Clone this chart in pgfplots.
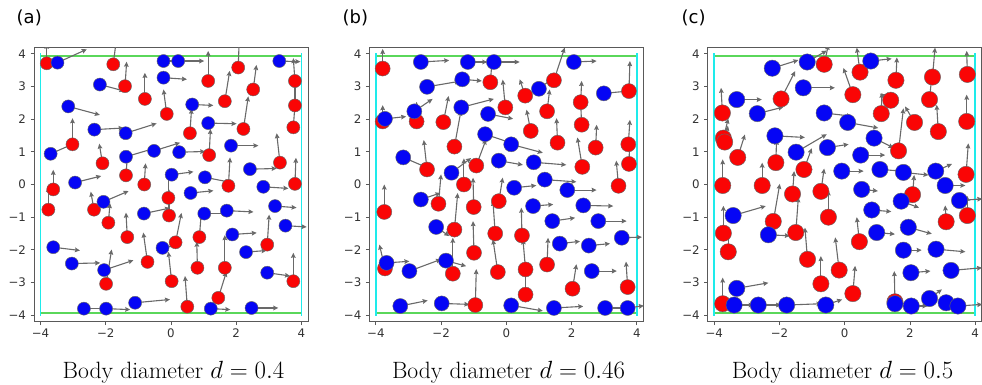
\documentclass[border=0pt]{standalone}
\usepackage{fontspec}
\usepackage{pgfplots}
\usepackage{pgfplotstable}
\pgfplotsset{compat=1.18}
\usetikzlibrary{arrows.meta}
\newfontfamily\tickfont{DejaVu Sans}
\newfontfamily\panelfont{DejaVu Sans}

\definecolor{wallgreen}{RGB}{90,215,90}
\definecolor{wallcyan}{RGB}{30,235,235}
\definecolor{arrowgray}{RGB}{105,105,105}
\definecolor{bodyred}{RGB}{250,5,5}
\definecolor{bodyblue}{RGB}{5,5,245}

% ---------- d = 0.4 ----------
\pgfplotstableread{
x y u v
-3.81 3.71 0 0.6
-1.77 3.68 0.1 0.8
1.14 3.17 0 0.92
2.06 3.58 0.03 0.8
3.80 3.17 -0.05 0.7
-1.41 3.01 0.05 0.75
-0.80 2.62 0 0.8
2.52 2.91 0.1 0.75
-0.13 2.16 -0.1 0.75
1.65 2.55 0.15 0.93
3.80 2.42 0 0.7
0.58 1.57 0.05 0.75
2.22 1.70 0.15 1.0
3.75 1.75 0.05 0.7
-3.02 1.23 0 0.8
1.17 0.90 0.04 0.8
-2.10 0.65 -0.1 0.6
3.34 0.67 -0.1 0.9
-1.38 0.28 0.05 0.7
-0.82 0.0 0.04 0.65
1.76 -0.04 0.05 0.87
3.80 0.02 0.03 0.8
-3.61 -0.15 0 0.6
-3.76 -0.77 0 0.7
-2.36 -0.77 -0.1 0.55
-0.08 -0.41 0 0.8
-0.06 -0.95 0 0.8
-1.92 -1.17 0.05 0.6
-1.34 -1.61 -0.04 0.75
0.87 -1.61 0.07 0.9
0.14 -1.77 0.18 0.9
2.95 -1.84 0.06 0.92
-0.72 -2.37 -0.13 0.9
0.81 -2.55 -0.02 0.8
1.65 -2.55 0 1.0
3.75 -2.96 0 0.87
-1.99 -3.04 0.17 1.05
0.02 -2.96 -0.1 0.9
1.45 -3.47 0.25 0.8
0.50 -3.74 -0.07 0.94
}\redA
\pgfplotstableread{
x y u v
-3.48 3.73 0.9 0.41
-0.23 3.78 0.5 0.0
0.22 3.78 0.8 0
3.32 3.78 0.65 -0.02
-2.18 3.06 0.75 -0.2
-0.23 3.27 0.72 -0.05
-3.15 2.39 0.97 -0.26
0.65 2.45 0.65 -0.03
1.14 1.88 0.87 -0.02
-2.35 1.68 0.9 0.05
-1.39 1.57 0.95 0.3
-3.69 0.94 0.64 0.28
-0.52 1.03 0.8 0.25
0.25 0.99 0.8 0.02
1.84 1.19 0.84 0
-1.38 0.85 0.85 0.25
2.42 0.47 0.82 0.02
-2.94 0.06 0.8 0.2
0.02 0.30 0.67 0.09
1.04 0.22 0.77 -0.15
2.83 -0.07 0.77 -0.05
-2.07 -0.53 0.77 0.33
0.60 -0.26 0.7 0.07
3.19 -0.66 0.66 -0.05
-0.83 -0.89 0.8 0.17
1.02 -0.89 0.7 0.0
1.71 -0.80 0.82 -0.04
3.51 -1.26 0.65 -0.04
1.88 -1.53 0.75 0.05
-3.61 -1.92 0.82 -0.1
-0.26 -1.94 0.6 0.1
2.30 -2.07 0.63 0.05
-3.04 -2.42 0.87 0.02
-2.05 -2.62 0.9 0.3
2.95 -2.70 0.7 -0.1
-1.10 -3.62 1.07 0.1
-2.67 -3.80 0.7 0
-1.99 -3.80 0.74 -0.03
1.22 -3.80 0.6 -0.03
2.47 -3.78 0.82 0
}\blueA

% ---------- d = 0.46 ----------
\pgfplotstableread{
x y u v
-3.79 3.55 0 0.6
1.46 3.19 0.33 1.0
0.58 2.72 -0.17 0.5
-0.49 3.13 0.05 0.6
3.76 2.86 0.03 0.92
2.28 2.52 0.03 0.65
1.25 2.24 0.08 0.67
-0.03 2.36 -0.08 0.85
-3.79 1.93 0 0.5
-2.75 1.93 0.0 0.6
-1.93 1.91 0.16 0.8
2.31 1.83 -0.03 0.67
0.75 1.64 -0.13 0.65
-1.59 1.16 0.2 1.1
1.57 1.28 -0.03 0.75
2.74 1.13 0.03 0.7
3.74 1.23 0.05 0.75
-2.43 0.46 -0.1 0.9
-0.92 0.58 0.3 0.8
2.33 0.54 -0.15 0.9
3.76 0.63 0.03 0.84
-1.30 0.0 0.0 0.8
3.44 -0.04 -0.07 0.77
-3.74 -0.84 0 0.84
-2.08 -0.59 0.08 0.9
-1.0 -0.69 -0.02 0.9
-0.23 -0.51 0.12 0.72
-1.59 -1.38 0.1 1.12
-0.34 -1.50 -0.07 1.0
0.48 -1.56 -0.02 0.85
-0.99 -2.09 -0.03 0.97
1.25 -2.45 0.03 0.82
-3.72 -2.57 -0.17 0.73
-1.64 -2.73 0 1.1
-0.26 -2.68 -0.15 1.0
0.59 -2.60 -0.08 0.92
2.03 -3.19 0.12 0.75
3.72 -3.14 -0.05 0.78
0.59 -3.37 0 0.8
-0.95 -3.69 0.03 1.1
}\redB
\pgfplotstableread{
x y u v
-2.62 3.75 0.87 0.05
-1.18 3.75 0.6 0.0
-0.38 3.75 0.79 0
2.07 3.75 0.7 0.03
1.00 2.93 0.4 0.3
-1.35 3.22 0.6 -0.05
-2.43 2.99 1.0 0.17
2.99 2.79 0.75 0.07
-1.38 2.36 1.0 0.26
-2.82 2.24 0.56 0.38
-3.72 2.01 0.65 0.07
-0.56 2.16 0.77 -0.15
-0.65 1.54 0.8 -0.27
0.15 1.23 0.97 -0.26
-3.16 0.83 0.7 -0.3
-0.23 0.73 0.74 -0.13
0.84 0.68 1.0 -0.08
-1.68 0.36 0.6 0.45
1.18 0.15 0.97 -0.07
0.24 -0.10 0.68 0.07
1.87 -0.17 0.9 0
-2.62 -0.46 0.6 0.2
0.82 -0.66 0.62 0.05
2.36 -0.64 0.92 -0.02
1.41 -1.12 0.7 0.1
2.82 -1.12 0.87 0
-2.15 -1.30 0.4 -0.28
3.54 -1.63 0.62 0.02
1.64 -1.81 0.62 0.07
2.53 -1.87 0.65 0.06
-3.67 -2.40 0.7 0.05
-2.97 -2.65 0.97 0.36
-1.85 -2.33 0.62 -0.17
2.62 -2.65 0.77 0
-3.25 -3.72 0.84 0.17
-1.98 -3.64 0.85 -0.03
0.15 -3.70 0.97 -0.17
1.46 -3.78 0.9 0.05
3.03 -3.78 0.7 0
3.72 -3.78 0.5 0.07
}\blueB

% ---------- d = 0.5 ----------
\pgfplotstableread{
x y u v
-0.63 3.68 0.13 0.6
0.47 3.44 -0.1 0.75
1.57 3.19 0.03 0.7
2.69 3.29 0.08 0.9
3.76 3.37 -0.02 0.72
0.25 2.75 -0.29 0.82
1.41 2.58 -0.33 0.2
2.60 2.60 0.07 0.72
-1.95 2.62 0.43 0.85
-3.75 2.19 -0.04 0.77
1.12 2.17 0.02 0.64
2.14 1.90 -0.29 0.49
3.74 1.93 0 0.82
2.87 1.62 -0.05 0.82
-3.72 1.42 0.15 0.6
-3.68 1.30 0.1 0.5
1.65 1.03 0.15 1.3
-3.28 0.83 0.22 0.7
-2.11 0.67 0.02 0.7
-1.25 0.46 0.24 0.65
3.72 0.31 0.07 0.95
-3.74 -0.03 0 0.8
-2.53 -0.03 0 0.7
-1.60 -0.29 0.05 0.7
-0.73 -0.21 0.1 0.7
2.08 -0.31 0.05 0.6
-0.50 -1.00 0 0.82
-2.19 -1.13 0.2 1.15
3.11 -1.14 -0.03 0.5
3.76 -0.95 0 0.6
-3.72 -1.49 0 0.84
-1.50 -1.47 0.08 1.08
0.45 -1.75 -0.08 0.75
-3.57 -2.06 0 0.6
-1.14 -2.29 -0.08 0.97
-0.17 -2.62 -0.12 1.0
-0.73 -3.04 0 0.85
0.25 -3.34 0.07 0.85
-3.74 -3.65 0 0.8
1.54 -3.59 -0.02 0.94
}\redC
\pgfplotstableread{
x y u v
-2.22 3.56 0.8 0.25
-1.15 3.75 0.6 0.35
0.80 3.78 0.64 0.07
-1.27 2.96 0.97 0
-3.31 2.60 0.77 0
-2.68 2.17 0.8 0.2
-0.63 2.19 0.85 -0.1
0.09 1.90 0.94 -0.17
-2.14 1.49 0.92 -0.05
0.90 1.42 0.6 -0.3
-0.53 1.13 0.65 0.1
-1.49 0.99 0.94 0.55
0.49 0.90 0.75 0
-0.09 0.41 0.67 0
1.08 0.46 0.7 -0.05
1.80 0.37 0.77 -0.08
2.79 0.41 0.5 0.22
3.08 -0.03 0.62 0
0.52 -0.15 0.5 -0.05
1.73 -0.51 0.55 -0.2
3.52 -0.49 0.7 0.05
-3.42 -0.95 1.0 0.29
0.83 -0.78 0.6 -0.05
-2.34 -1.54 0.66 -0.03
0.98 -1.47 0.56 -0.05
1.95 -1.31 0.72 -0.2
1.80 -2.01 0.56 0
2.80 -1.98 0.9 -0.08
2.03 -2.70 0.6 0.05
3.26 -2.63 0.95 0.08
-3.31 -3.18 0.97 0.17
-3.39 -3.69 0.6 0
-2.65 -3.69 0.7 0
-1.78 -3.69 1.07 0.04
-0.58 -3.69 0.5 0.17
1.54 -3.65 0.5 0
2.04 -3.72 0.5 0
2.60 -3.49 0.38 0.28
3.11 -3.62 0.5 0
3.47 -3.72 0.75 0.05
}\blueC

\pgfplotsset{
  box/.style={
    scale only axis, width=274pt, height=274.4pt,
    anchor=north west,
    xmin=-4.2, xmax=4.2, ymin=-4.2, ymax=4.2,
    axis line style={black!65, line width=1pt},
    xtick={-4,-2,0,2,4}, xticklabels={−4,−2,0,2,4},
    ytick={-4,-3,-2,-1,0,1,2,3,4},
    yticklabels={−4,−3,−2,−1,0,1,2,3,4},
    tick align=outside, tick pos=left,
    major tick length=3.5pt,
    tick style={black!65, line width=0.8pt},
    ticklabel style={font=\tickfont\fontsize{11.8}{13}\selectfont, text=black!80},
    xticklabel style={yshift=0pt},
    yticklabel style={xshift=-1pt},
  },
  arrows/.style={
    arrowgray, line width=1.1pt,
    -{Stealth[length=5pt,width=4.6pt,inset=0.6pt]},
    quiver={u=\thisrow{u}, v=\thisrow{v}},
  },
  bodies/.style 2 args={
    only marks, mark=*, mark size=#2,
    mark options={fill=#1, draw=black!60, line width=0.45pt},
  },
}

% walls, arrows, then bodies on top
\newcommand\panel[3]{%
  \addplot[wallgreen, line width=1.5pt] coordinates {(-4,3.94) (4,3.94)};
  \addplot[wallgreen, line width=1.5pt] coordinates {(-4,-3.94) (4,-3.94)};
  \addplot[wallcyan, line width=1.5pt] coordinates {(-4,-4.02) (-4,4.02)};
  \addplot[wallcyan, line width=1.5pt] coordinates {(4,-4.02) (4,4.02)};
  \addplot[arrows] table[x=x, y=y] {#1};
  \addplot[arrows] table[x=x, y=y] {#2};
  \addplot[bodies={bodyred}{#3}] table[x=x, y=y] {#1};
  \addplot[bodies={bodyblue}{#3}] table[x=x, y=y] {#2};
}

\begin{document}
\begin{tikzpicture}
\useasboundingbox (0pt,0pt) rectangle (982pt,-384pt);

\begin{axis}[box, at={(34pt,-47.3pt)}]
  \panel{\redA}{\blueA}{6.52pt}
\end{axis}
\begin{axis}[box, at={(369.3pt,-47.3pt)}]
  \panel{\redB}{\blueB}{7.5pt}
\end{axis}
\begin{axis}[box, at={(707.7pt,-47.3pt)}]
  \panel{\redC}{\blueC}{8.16pt}
\end{axis}

\node[anchor=base west, inner sep=0pt, font=\panelfont\fontsize{18}{20}\selectfont] at (16.5pt,-23.5pt) {(a)};
\node[anchor=base west, inner sep=0pt, font=\panelfont\fontsize{18}{20}\selectfont] at (342.5pt,-23.5pt) {(b)};
\node[anchor=base west, inner sep=0pt, font=\panelfont\fontsize{18}{20}\selectfont] at (681.5pt,-23.5pt) {(c)};

\node[anchor=base, inner sep=0pt, font=\fontsize{23.6}{27}\selectfont] at (173.5pt,-378pt) {Body diameter $d = 0.4$};
\node[anchor=base, inner sep=0pt, font=\fontsize{23.6}{27}\selectfont] at (508.5pt,-378pt) {Body diameter $d = 0.46$};
\node[anchor=base, inner sep=0pt, font=\fontsize{23.6}{27}\selectfont] at (842.5pt,-378pt) {Body diameter $d = 0.5$};
\end{tikzpicture}
\end{document}
